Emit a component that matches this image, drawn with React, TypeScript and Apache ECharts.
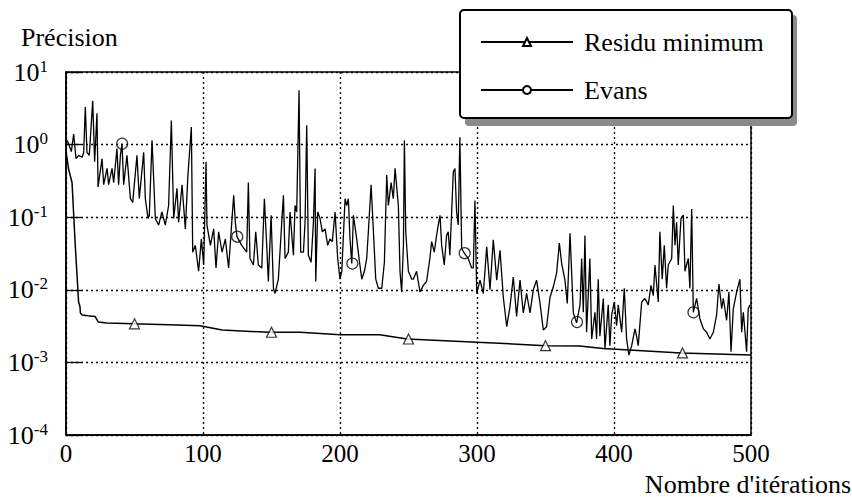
import React, { useEffect, useRef } from "react";
import * as echarts from "echarts";

const FONT = "Liberation Serif";

const yAxisTitle = "Précision";
const xAxisTitle = "Nombre d'itérations";
const seriesNames = ["Residu minimum", "Evans"];
const xMin = 0;
const xMax = 500;
const xInterval = 100;
const yMin = 1e-4;
const yMax = 10;

// Residu minimum : [iteration, precision]
const residu: [number, number][] = [
  [0, 0.8], [2, 0.45], [4.4, 0.3], [6.8, 0.04], [9.2, 0.0068], [10.2, 0.0059],
  [10.5, 0.0048], [11.8, 0.0045], [16, 0.0044], [21.2, 0.0043], [23.6, 0.0036],
  [30, 0.0035], [49, 0.0034], [75, 0.0033], [97.8, 0.0032], [114, 0.0028],
  [148, 0.0026], [171, 0.0026], [200, 0.0024], [229, 0.0024], [249, 0.0021],
  [300, 0.0019], [350, 0.0017], [375, 0.00168], [392, 0.00155], [449, 0.00135],
  [500, 0.00126],
];
const residuMarkers: [number, number][] = [
  [50, 0.0034], [150, 0.0026], [250, 0.0021], [350, 0.0017], [450, 0.00135],
];

// Evans : [iteration, precision]
const evans: [number, number][] = [
  [0, 1.2], [1.9, 1.03], [3.9, 0.8], [5.6, 1.4], [7.3, 0.64], [9.2, 0.71], [11.7, 0.67],
  [12.9, 0.78], [14.1, 3.3], [15.3, 0.78], [17, 0.71], [19.5, 4.0], [20.9, 0.58],
  [22.6, 2.7], [23.4, 0.26], [26.3, 0.64], [27.5, 0.28], [30, 0.47], [31.1, 0.28],
  [33.6, 0.47], [34.8, 0.3], [37.2, 0.88], [38.4, 0.28], [39.7, 0.71], [40.9, 1.03],
  [42.1, 0.28], [44.5, 0.71], [47, 0.18], [48.7, 0.16], [51.8, 0.71], [53.5, 0.18],
  [56.7, 0.78], [57.9, 0.18], [59.9, 0.096], [60.8, 0.106], [62.8, 1.15], [65.2, 0.096],
  [67.6, 0.078], [70, 0.118], [72.5, 0.078], [74.9, 0.145], [76.9, 2.15], [78.6, 0.096],
  [81, 0.25], [82.2, 0.085], [84.7, 0.28], [87.1, 0.069], [89, 0.38], [91.5, 1.75],
  [92.5, 0.033], [94.4, 0.041], [96.8, 0.018], [98.8, 0.05], [100.5, 0.022], [102.2, 0.58],
  [102.9, 0.078], [105.4, 0.041], [107.8, 0.069], [109.5, 0.02], [111.4, 0.063],
  [113.9, 0.033], [116.3, 0.05], [118.7, 0.02], [121.2, 0.096], [122.4, 0.2],
  [123.6, 0.085], [124.8, 0.054], [128.3, 0.041], [131.9, 0.033], [133.1, 0.3],
  [134.3, 0.027], [136.8, 0.022], [138.5, 0.063], [140.4, 0.022], [142.9, 0.02],
  [144.8, 0.18], [146.5, 0.041], [147.7, 0.013], [149.7, 0.106], [151.4, 0.0105],
  [152.6, 0.0089], [155, 0.014], [157.5, 0.085], [158.7, 0.2], [159.9, 0.027],
  [162.3, 0.033], [163.5, 0.118], [166, 0.03], [167.2, 0.145], [168.4, 0.118],
  [170.1, 5.6], [171.3, 0.033], [173.3, 0.033], [174.5, 0.085], [175.7, 1.85],
  [176.9, 0.03], [178.9, 0.024], [180.6, 0.085], [181.8, 0.47], [182.3, 0.013],
  [183.7, 0.118], [185.4, 0.096], [187.1, 0.063], [189.1, 0.069], [191, 0.041],
  [192.7, 0.05], [194.4, 0.046], [196.4, 0.118], [198.3, 0.027], [200, 0.014],
  [201.3, 0.018], [203.7, 0.18], [204.9, 0.145], [206.1, 0.18], [207.3, 0.05],
  [208.6, 0.023], [209.8, 0.106], [212.2, 0.05], [213.9, 0.027], [215.9, 0.014],
  [217.8, 0.018], [219.5, 0.027], [220.7, 0.063], [222.7, 0.28], [224.4, 0.063],
  [226.1, 0.014], [228, 0.0105], [230.5, 0.0105], [232.4, 0.024], [234.1, 0.38],
  [235.3, 0.145], [237.3, 0.3], [238.9, 0.18], [240.2, 0.47], [242.6, 0.145],
  [243.8, 0.018], [245, 0.0093], [246.3, 0.041], [247, 1.15], [248, 0.063],
  [249.9, 0.018], [252.4, 0.014], [253.5, 0.014], [255.9, 0.018], [258.4, 0.0093],
  [260.8, 0.0115], [263.2, 0.013], [265.6, 0.027], [266.9, 0.046], [268.8, 0.033],
  [270.5, 0.056], [271.7, 0.078], [273, 0.106], [274.2, 0.041], [276.1, 0.022],
  [277.8, 0.056], [279, 0.063], [280.2, 0.03], [281.5, 0.118], [282.7, 0.42],
  [283.9, 0.47], [285.1, 0.118], [286.3, 0.078], [287.5, 1.26], [288.8, 0.037],
  [290.7, 0.032], [293.6, 0.027], [296.1, 0.02], [297.3, 0.02], [298.5, 0.17],
  [299.8, 0.0089], [302.2, 0.0136], [304.6, 0.0089], [307.1, 0.039], [309.5, 0.01],
  [311.9, 0.049], [314.4, 0.0136], [316.8, 0.035], [319.2, 0.0079], [321.7, 0.0031],
  [324.1, 0.0059], [326.5, 0.015], [328.9, 0.0043], [331.4, 0.0136], [333.8, 0.0048],
  [336.2, 0.0089], [338.7, 0.0048], [341.1, 0.01], [343.5, 0.0136], [346, 0.0065],
  [348.4, 0.0028], [350.8, 0.0031], [353.3, 0.0079], [355.7, 0.011], [358.1, 0.017],
  [360.1, 0.044], [361.8, 0.023], [364.2, 0.0136], [365.9, 0.0065], [367.9, 0.06],
  [370.3, 0.0048], [372.7, 0.0035], [375.2, 0.0062], [376.4, 0.027], [377.6, 0.0049],
  [378.8, 0.056], [380, 0.0026], [382.4, 0.027], [383.7, 0.0021], [386.1, 0.0049],
  [387.3, 0.0021], [388.5, 0.014], [389.7, 0.0023], [392.2, 0.0076], [393.4, 0.00155],
  [395.8, 0.0062], [397, 0.0017], [398.3, 0.0045], [400.2, 0.0068], [401.9, 0.0032],
  [403.1, 0.0062], [405.6, 0.0026], [407.5, 0.0105], [409.2, 0.0021], [410.9, 0.00126],
  [412.9, 0.0017], [415.3, 0.0029], [416.5, 0.0023], [417.7, 0.0017], [420.2, 0.0068],
  [422.6, 0.0076], [425, 0.0062], [427, 0.0115], [428.7, 0.0083], [429.9, 0.022],
  [432.3, 0.0068], [433.5, 0.063], [435.2, 0.014], [436.7, 0.041], [438.4, 0.0105],
  [439.6, 0.022], [442.1, 0.027], [443.3, 0.145], [444.5, 0.041], [445.7, 0.085],
  [446.9, 0.022], [448.9, 0.096], [450.6, 0.107], [451.8, 0.018], [454.2, 0.027],
  [455.4, 0.0105], [456.7, 0.13], [457.9, 0.0049], [460.3, 0.0076], [462.7, 0.004],
  [465.2, 0.0029], [467.6, 0.0026], [470, 0.0021], [472.5, 0.0026], [474.9, 0.0045],
  [476.6, 0.012], [478.6, 0.0055], [479.8, 0.0076], [482.2, 0.0038], [483.9, 0.0093],
  [485.4, 0.0014], [487.1, 0.0055], [489.5, 0.0093], [491.9, 0.014], [493.2, 0.0026],
  [494.4, 0.0049], [496.8, 0.0014], [498, 0.0055], [499.3, 0.0062],
];
const evansMarkers: [number, number][] = [
  [41, 1.03], [125, 0.054], [209, 0.023], [291, 0.032], [373, 0.0036], [458, 0.0049],
];

export default function App() {
  const ref = useRef<HTMLDivElement>(null);
  useEffect(() => {
    if (!ref.current) return;
    const chart = echarts.init(ref.current, null, { renderer: "svg" });
    const markerStyle = { color: "#fff", borderColor: "#000", borderWidth: 1.2 };
    chart.setOption({
      animation: false,
      backgroundColor: "#fff",
      textStyle: { fontFamily: FONT, color: "#000" },
      grid: {
        left: 66, right: 101, top: 72, bottom: 62,
        show: true, borderColor: "#000", borderWidth: 1.5, backgroundColor: "transparent",
      },
      xAxis: {
        type: "value", min: xMin, max: xMax, interval: xInterval,
        axisLine: { show: true, lineStyle: { color: "#000", width: 1.5 } },
        axisTick: { show: false },
        axisLabel: { color: "#000", fontFamily: FONT, fontSize: 25, margin: 6 },
        splitLine: { show: true, lineStyle: { color: "#000", type: [2, 3], width: 1.3 } },
      },
      yAxis: {
        type: "log", logBase: 10, min: yMin, max: yMax,
        axisLine: { show: true, lineStyle: { color: "#000", width: 1.5 } },
        axisTick: { show: true, inside: true, length: 15, lineStyle: { color: "#000", width: 1.3 } },
        axisLabel: {
          color: "#000", margin: 18, fontFamily: FONT,
          formatter: (v: number) => `{b|10}{s|${Math.round(Math.log10(v))}}`,
          rich: {
            b: { fontFamily: FONT, fontSize: 26, color: "#000" },
            s: { fontFamily: FONT, fontSize: 17, color: "#000", padding: [0, 0, 12, 0] },
          },
        },
        splitLine: { show: true, lineStyle: { color: "#000", type: [2, 3], width: 1.3 } },
      },
      legend: {
        orient: "vertical", left: 480, top: 27, z: 20, padding: 0,
        itemWidth: 92, itemHeight: 10, itemGap: 18,
        data: seriesNames,
        textStyle: { fontFamily: FONT, fontSize: 26, color: "#000", lineHeight: 30, padding: [0, 0, 0, 6] },
      },
      graphic: [
        { type: "rect", z: 15, shape: { x: 465, y: 15, width: 332, height: 111, r: 4 }, style: { fill: "#8a8a8a" } },
        { type: "rect", z: 16, shape: { x: 460, y: 10, width: 332, height: 108, r: 4 }, style: { fill: "#fff", stroke: "#000", lineWidth: 2 } },
        { type: "text", left: 21, top: 24, style: { text: yAxisTitle, fontFamily: FONT, fontSize: 26, fill: "#000" } },
        { type: "text", right: 1, top: 471, style: { text: xAxisTitle, fontFamily: FONT, fontSize: 26, fill: "#000" } },
      ],
      series: [
        {
          name: seriesNames[0], type: "line", data: residu, showSymbol: false,
          symbol: "triangle", symbolSize: 9, itemStyle: markerStyle,
          lineStyle: { color: "#000", width: 1.5 }, z: 3,
        },
        {
          name: seriesNames[1], type: "line", data: evans, showSymbol: false,
          symbol: "circle", symbolSize: 9, itemStyle: markerStyle,
          lineStyle: { color: "#000", width: 1.3 }, z: 3,
        },
        {
          name: "residuMarkers", type: "scatter", data: residuMarkers, symbol: "triangle",
          symbolSize: 10, itemStyle: markerStyle, z: 5,
        },
        {
          name: "evansMarkers", type: "scatter", data: evansMarkers, symbol: "circle",
          symbolSize: 11, itemStyle: { color: "transparent", borderColor: "#000", borderWidth: 1.2 }, z: 5,
        },
      ],
    });
    return () => chart.dispose();
  }, []);
  return <div ref={ref} style={{ width: 852, height: 497, position: "absolute", left: 0, top: 0 }} />;
}
